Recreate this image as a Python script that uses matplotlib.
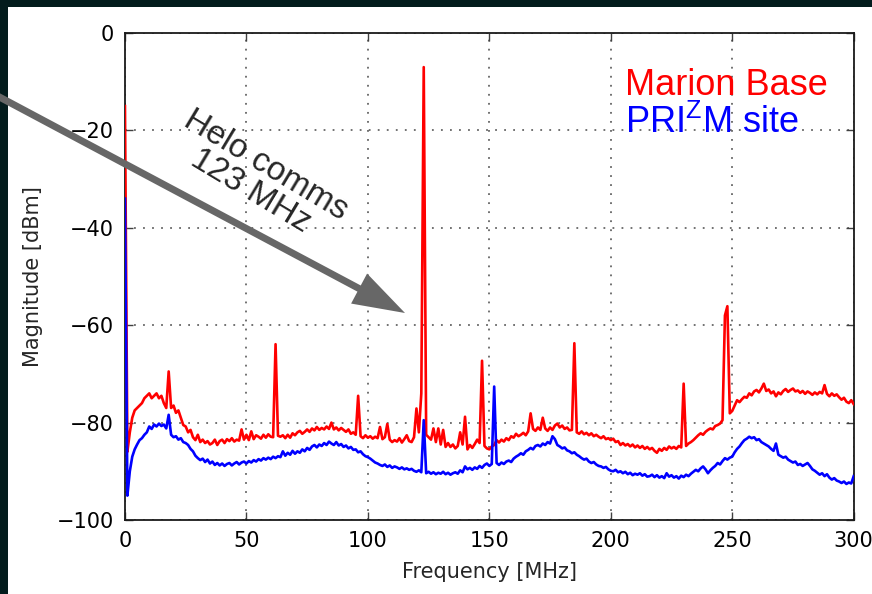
import numpy as np
import matplotlib
matplotlib.use("Agg")
import matplotlib.pyplot as plt
from matplotlib.patches import FancyArrow, Rectangle
from matplotlib.transforms import IdentityTransform

# spectrum samples, 1 MHz spacing from 0 to 300 MHz
freq_mhz = np.arange(0, 301, 1.0)

marion_base_dbm = [
    -15, -86, -82, -79, -77.5, -77, -76.5, -76, -75, -74.5,
    -74, -75, -74.5, -74, -75, -74.5, -76, -77, -69.5, -77,
    -76.5, -78, -77.5, -79, -80.5, -80.8, -82, -81.5, -83, -83.6,
    -82.5, -84, -83.5, -84.2, -83.8, -84.5, -84.2, -83.5, -84.6, -83.8,
    -83.5, -84.2, -83.4, -83.8, -83.2, -83.9, -83.5, -83.7, -81.4, -83.5,
    -82.5, -83.6, -81.8, -83.4, -82.6, -82.9, -83.3, -82.5, -83.1, -82.4,
    -82.9, -83, -63.9, -82.7, -82.9, -82.6, -83.2, -82.5, -83.1, -82.2,
    -82.6, -82, -81.7, -82.3, -81.9, -81.4, -81.9, -81.2, -81.6, -80.9,
    -81.5, -81.1, -81.4, -80.8, -81.3, -80, -81.4, -81, -81.6, -81.1,
    -81.5, -81.9, -81.4, -82.3, -82, -82.5, -74.5, -82.8, -83.2, -82.6,
    -83.1, -82.8, -83.3, -82.9, -83.2, -80.9, -83.4, -83, -80.3, -83.5,
    -84, -83.6, -83.9, -83.2, -84.1, -83.4, -82.6, -83.8, -84, -83,
    -77.1, -82, -74, -7, -82.5, -83, -83.5, -81.2, -84, -81.2,
    -84.5, -81.5, -85, -84.2, -85, -84.5, -85.3, -84.8, -82, -84.5,
    -78.8, -85.5, -84.6, -85.2, -84.4, -83.5, -84.2, -67.3, -84.8, -85.3,
    -85.5, -84.9, -84.6, -83.6, -84.1, -83.5, -83.9, -83.2, -83.6, -82.8,
    -83.1, -82.3, -82.8, -82.5, -82.1, -82.6, -81.8, -78.1, -81.3, -81.7,
    -81, -81.5, -79, -81.2, -81.7, -81, -81.5, -80.6, -80.2, -81,
    -80.6, -81.3, -81, -81.6, -81.5, -63.7, -82, -82.3, -81.8, -82.4,
    -82.1, -82.6, -82.2, -82.8, -82.5, -82.9, -83.2, -82.8, -83.4, -83.2,
    -83.6, -83.3, -84, -83.8, -84.6, -84.2, -84.7, -84.4, -84.9, -84.5,
    -85.1, -84.7, -85.2, -84.8, -85.4, -85, -85.5, -85.2, -85.8, -86.2,
    -85.4, -85.8, -85.2, -85.6, -84.9, -85.3, -85, -85.4, -84.8, -85.1,
    -72, -84.8, -84.3, -84, -83.6, -83.1, -82.6, -82.2, -82.5, -81.9,
    -81.5, -81.2, -81.4, -80.7, -80.5, -80.2, -79.5, -58, -56.1, -78.1,
    -77.6, -76.5, -75.4, -75.8, -75.2, -74.7, -74.9, -74, -74.4, -73.6,
    -73.3, -73.8, -73, -72, -73.5, -73.2, -74, -73.6, -74.6, -73.8,
    -74.2, -73.5, -73.1, -73.7, -73.3, -73, -73.6, -73.4, -73.9, -73.5,
    -74.1, -73.6, -73.9, -74.3, -73.8, -74.2, -73.7, -74, -72.3, -74.1,
    -74.6, -74, -74.5, -74.2, -74.8, -75.3, -74.9, -75.7, -76, -75.4,
    -76.2,
]

prizm_site_dbm = [
    -34, -95, -90, -87, -85.5, -84.5, -83.6, -83.2, -82.5, -82,
    -80.8, -81.3, -80.4, -80.8, -80.2, -80.7, -80.4, -81.2, -78.4, -82.5,
    -83, -82.8, -83.5, -83.2, -84, -84.2, -84.6, -85.4, -85.9, -86.8,
    -87.3, -87.7, -87.4, -88.1, -87.6, -88.4, -88, -88.7, -88.3, -88.8,
    -88.4, -88.9, -88.5, -88.3, -88.8, -88.4, -88.1, -88.6, -88.2, -88,
    -88.4, -87.9, -88.2, -87.7, -88, -87.5, -87.8, -87.3, -87.6, -87.2,
    -87.5, -87, -87.3, -86.9, -87.1, -85.9, -86.8, -86.2, -86.6, -85.8,
    -86.4, -85.9, -86.2, -85.5, -85.9, -85.2, -85.6, -84.9, -84.6, -85.1,
    -84.5, -84.8, -84.2, -84.6, -83.9, -84.3, -84.6, -84, -84.7, -84.4,
    -85, -84.7, -85.3, -85, -85.6, -85.5, -86.1, -85.9, -86.5, -86.9,
    -87.1, -87.4, -87.8, -88.2, -88.4, -88.7, -88.9, -88.6, -89.1, -88.8,
    -89.3, -89, -89.2, -89.5, -89.2, -89.6, -89.4, -89.7, -89.5, -89.9,
    -90.1, -89.8, -90.2, -79.5, -90.4, -90.1, -90.5, -90.2, -90.6, -90.3,
    -90.5, -90.1, -90.6, -90.3, -90.7, -90.4, -90.2, -90.5, -89.8, -90.2,
    -89, -89.6, -89.3, -89.7, -89.2, -89.5, -88.9, -89.3, -88.7, -88.4,
    -88.9, -88.5, -72.6, -88.3, -88.7, -88.2, -88.5, -88, -87.8, -88.1,
    -87.4, -87, -86.7, -86.3, -86.6, -85.9, -85.6, -85.2, -85.5, -84.8,
    -84.6, -84.9, -84.3, -84.6, -84, -84.3, -82.8, -83.4, -84.6, -84.9,
    -85.3, -85.1, -85.7, -85.9, -86.3, -86.1, -86.6, -86.9, -87.3, -87.6,
    -87.4, -88, -88.3, -88.1, -88.6, -88.9, -89, -89.3, -89.1, -89.6,
    -89.9, -90, -89.7, -90.2, -90, -90.4, -90.1, -90.6, -90.3, -90.8,
    -90.5, -90.7, -90.4, -90.9, -90.6, -91.1, -91, -90.7, -91.2, -90.8,
    -91.3, -91, -91.4, -90.4, -91.1, -90.8, -91.3, -91, -91.5, -90.9,
    -91.2, -90.7, -91, -90.5, -90.1, -89.7, -90, -89.4, -89, -89.6,
    -90.4, -89.8, -89.3, -88.9, -88.3, -88.6, -87.9, -87.3, -87.6, -87.2,
    -87, -86.1, -85.4, -84.9, -84.2, -83.6, -83.3, -82.9, -83.2, -83,
    -83.6, -83.4, -84, -84.3, -84.6, -84.9, -85.4, -85.8, -84.3, -86.6,
    -86.9, -87.2, -87, -87.6, -87.9, -88.2, -88, -88.7, -88.5, -88.9,
    -88.6, -88.3, -88.9, -89.6, -89.9, -90.3, -90.7, -90.4, -91, -90.6,
    -91.3, -91.7, -91.4, -91.9, -92.1, -92.4, -92.1, -92.6, -92.3, -92.5,
    -91,
]

x_ticks = [0, 50, 100, 150, 200, 250, 300]
y_ticks = [-100, -80, -60, -40, -20, 0]

plt.rcParams['xtick.direction'] = 'in'
plt.rcParams['ytick.direction'] = 'in'
plt.rcParams['xtick.top'] = True
plt.rcParams['ytick.right'] = True

fig = plt.figure(figsize=(8.72, 5.94), dpi=100, facecolor='white')
ax = fig.add_axes([0.1433, 0.1246, 0.8357, 0.8198])

ax.plot(freq_mhz, marion_base_dbm, color='#ff0000', lw=1.9, zorder=3)
ax.plot(freq_mhz, prizm_site_dbm, color='#0000ff', lw=1.9, zorder=3)

ax.set_xlim(0, 300)
ax.set_ylim(-100, 0)
ax.set_xticks(x_ticks)
ax.set_yticks(y_ticks)
ax.tick_params(labelsize=15, length=6, width=1, pad=8, color='0.25')
ax.grid(True, linestyle=(0, (1, 4)), color='0.4', lw=1.3)
for s in ax.spines.values():
    s.set_linewidth(1.3)
    s.set_color('0.1')

ax.set_xlabel('Frequency [MHz]', fontsize=15, labelpad=8, color='0.15')
ax.set_ylabel('Magnitude [dBm]', fontsize=15, labelpad=10, color='0.15')

# legend written as coloured text
ax.text(0.686, 0.873, 'Marion Base', color='#ff0000', fontsize=26,
        family='Liberation Sans', transform=ax.transAxes)
ax.text(0.686, 0.795, r'$\mathregular{PRI^ZM}$ site', color='#0000ff', fontsize=26,
        family='Liberation Sans', transform=ax.transAxes)

# annotation for the helicopter comms line
fig.text(258 / 872, 1 - 178 / 594, 'Helo comms\n123 MHz', fontsize=24,
         family='Liberation Sans', color='0.15', rotation=-31,
         ha='center', va='center', multialignment='center',
         linespacing=0.95, rotation_mode='anchor')

# dark frame strips along top and left
fig.add_artist(Rectangle((0, 587), 872, 7, transform=IdentityTransform(),
                         facecolor='#031c1d', edgecolor='none', zorder=5))
fig.add_artist(Rectangle((0, 0), 8, 594, transform=IdentityTransform(),
                         facecolor='#031c1d', edgecolor='none', zorder=5))

fig.add_artist(FancyArrow(-10, 502, 415, -221, width=7, head_width=34,
                          head_length=52, length_includes_head=True,
                          transform=IdentityTransform(), facecolor='#676767',
                          edgecolor='none', zorder=6))

fig.savefig('out.png', dpi=100, facecolor='white')
